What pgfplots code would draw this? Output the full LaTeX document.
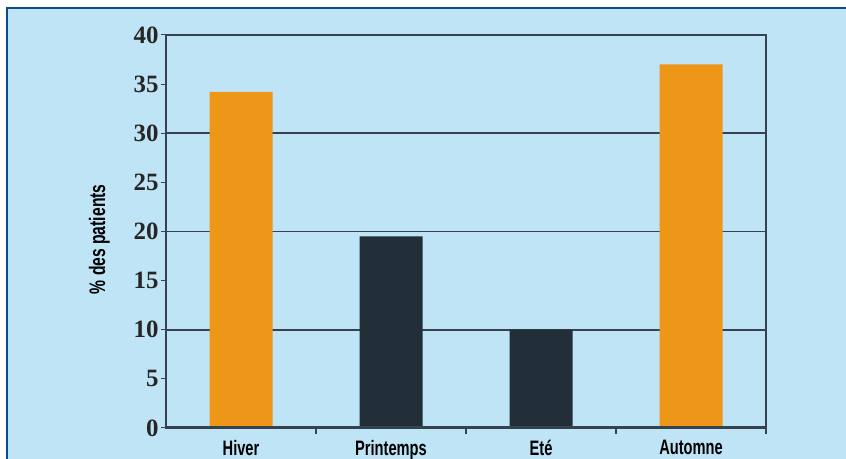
\documentclass[border=0pt]{standalone}
\usepackage{pgfplots}
\pgfplotsset{compat=1.18}
\usepackage{fontspec}
\setmainfont{Liberation Serif}
\newfontfamily\cond[FakeStretch=0.7]{Liberation Sans}
\definecolor{bgblue}{HTML}{BEE4F6}
\definecolor{borderblue}{HTML}{0D4C8C}
\definecolor{barorange}{HTML}{EE9617}
\definecolor{bardark}{HTML}{222E38}
\definecolor{gridc}{HTML}{34434F}
\begin{document}
\begin{tikzpicture}[x=1bp,y=1bp]
\useasboundingbox (0,0) rectangle (846,459);
\fill[white] (0,0) rectangle (846,459);
\fill[bgblue] (7,0) rectangle (846,451);
\draw[borderblue,line width=2.5bp] (7,0) -- (7,451) -- (846,451);
\begin{axis}[
  at={(166bp,31bp)}, anchor=south west,
  scale only axis, width=600bp, height=393bp,
  xmin=0.5, xmax=4.5, ymin=0, ymax=40,
  ybar, bar width=63bp,
  xtick={1,2,3,4},
  xticklabels={Hiver,Printemps,Eté,Automne},
  xtick pos=bottom, ytick pos=left,
  major x tick style={draw=none},
  minor xtick={1.5,2.5,3.5,4.5},
  minor x tick style={gridc, line width=1.5bp},
  minor tick length=6bp,
  tick align=outside,
  ytick={0,5,...,40},
  major tick length=5bp,
  major y tick style={gridc, line width=1bp},
  extra y ticks={10,20,30},
  extra y tick labels={},
  extra y tick style={grid=major, major grid style={gridc, line width=1.6bp}, major tick length=0pt},
  axis line style={gridc, line width=1.3bp},
  /pgf/number format/assume math mode=true,
  yticklabel style={font=\fontsize{25}{25}\selectfont\bfseries, text=black!85, xshift=1bp},
  xticklabel style={font=\cond\fontsize{21}{21}\selectfont\bfseries, text=black, yshift=-4bp},
  ylabel={\% des patients},
  ylabel style={font=\cond\fontsize{22.5}{22.5}\selectfont\bfseries, text=black, at={(ticklabel cs:0.48)}},
  ylabel shift=12bp,
  clip=false,
]
\addplot[ybar, bar shift=0pt, fill=barorange, draw=none] coordinates {(1,34.2) (4,37.0)};
\addplot[ybar, bar shift=0pt, fill=bardark, draw=none] coordinates {(2,19.5) (3,10.0)};
\draw[gridc, line width=3bp] (axis cs:0.5,0) -- (axis cs:4.5,0);
\end{axis}
\end{tikzpicture}
\end{document}
